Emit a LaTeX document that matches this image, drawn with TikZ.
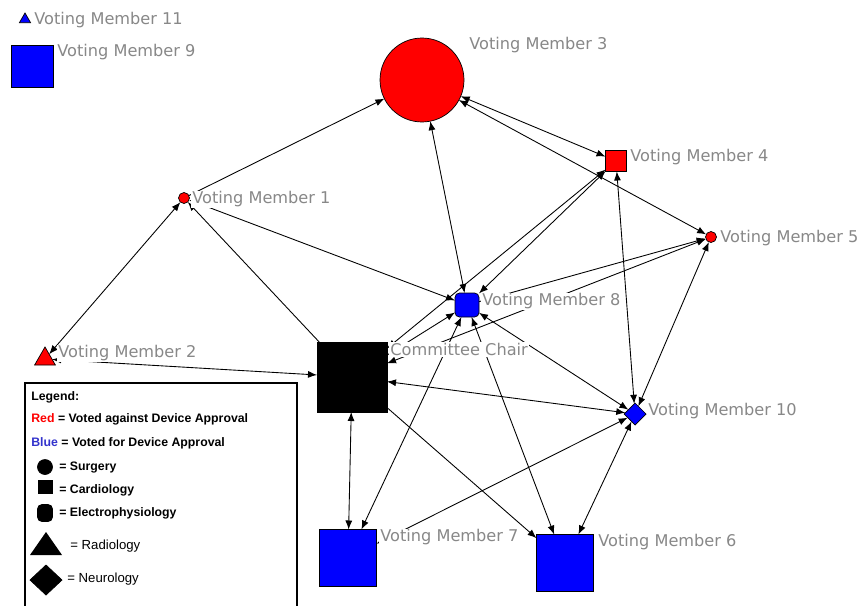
\documentclass[tikz,border=0pt]{standalone}
\usepackage{fontspec}
\setmainfont{Liberation Sans}
\newfontfamily\vmfont{DejaVu Sans}
\usetikzlibrary{backgrounds}
\usetikzlibrary{shapes.geometric}
\usetikzlibrary{arrows.meta}
\definecolor{vmred}{RGB}{255,0,0}
\definecolor{vmblue}{RGB}{0,0,255}
\definecolor{lgblue}{RGB}{51,51,204}
\definecolor{vmgray}{RGB}{136,136,136}
\newcommand{\vmsize}{\fontsize{9.2}{11}\selectfont}
\newcommand{\lgsize}{\fontsize{7}{8.5}\selectfont}
\newcommand{\lgsizer}{\fontsize{7.5}{9}\selectfont}
\tikzset{
  vm/.style={draw=black, line width=0.4pt, inner sep=0pt, outer sep=0pt},
  surg/.style={vm, circle},
  card/.style={vm, rectangle},
  ephys/.style={vm, rectangle, rounded corners=2.5pt},
  radio/.style={vm, regular polygon, regular polygon sides=3},
  neuro/.style={vm, diamond},
  vmlbl/.style={anchor=west, fill=white, inner sep=0.6pt, text=vmgray,
    font=\vmfont\vmsize, yshift=-0.03cm},
  lgtxt/.style={anchor=west, inner sep=0pt, font=\bfseries\lgsize},
  tie/.style={line width=0.5pt}
}

\begin{document}
\begin{tikzpicture}[x=0.02cm,y=-0.02cm,>={Latex[length=1.8mm,width=1.4mm]}]
  \useasboundingbox (0,0) rectangle (864,605);

  % members
  \node[surg, fill=vmred, minimum size=1.68cm] (vm3) at (422,80) {};
  \node[surg, fill=vmred, minimum size=0.22cm] (vm1) at (184,198) {};
  \node[surg, fill=vmred, minimum size=0.22cm] (vm5) at (711,237) {};
  \node[card, fill=vmred, minimum size=0.42cm] (vm4) at (616,161) {};
  \node[radio, fill=vmred, minimum size=0.48cm] (vm2) at (45,359) {};
  \node[ephys, fill=vmblue, minimum size=0.48cm] (vm8) at (467,305) {};
  \node[card, fill=black, minimum size=1.4cm] (cc) at (352,377) {};
  \node[neuro, fill=vmblue, minimum size=0.44cm] (vm10) at (635,414) {};
  \node[card, fill=vmblue, minimum size=1.14cm] (vm7) at (348,558) {};
  \node[card, fill=vmblue, minimum size=1.14cm] (vm6) at (565,563) {};
  \node[card, fill=vmblue, minimum size=0.84cm] (vm9) at (32,66) {};
  \node[radio, fill=vmblue, minimum size=0.26cm] (vm11) at (25,19.5) {};

  % names
  \node[vmlbl] (t11) at (33,19) {Voting Member 11};
  \node[vmlbl] (t9) at (56,51) {Voting Member 9};
  \node[vmlbl] (t3) at (468,44) {Voting Member 3};
  \node[vmlbl] (t4) at (629,156) {Voting Member 4};
  \node[vmlbl] (t1) at (191,198) {Voting Member 1};
  \node[vmlbl] (t5) at (719,237) {Voting Member 5};
  \node[vmlbl] (t8) at (481,300) {Voting Member 8};
  \node[vmlbl] (t2) at (57,352) {Voting Member 2};
  \node[vmlbl] (tcc) at (389,348) {Committee Chair};
  \node[vmlbl] (t10) at (647,410) {Voting Member 10};
  \node[vmlbl] (t7) at (379,536) {Voting Member 7};
  \node[vmlbl] (t6) at (597,541) {Voting Member 6};

  \begin{scope}[on background layer]
    \draw[tie,->] (vm1) -- (vm3);
    \draw[tie,<->] (vm1) -- (vm2);
    \draw[tie,->] (cc) -- (vm1);
    \draw[tie,<->] (vm1) -- (vm8);
    \draw[tie,<->] (vm2) -- (cc);
    \draw[tie,<->] (vm3) -- (vm8);
    \draw[tie,<->] (vm3) -- (vm4);
    \draw[tie,<->] (vm3) -- (vm5);
    \draw[tie,<->] (vm4) -- (vm8);
    \draw[tie,<->] (vm4) -- (cc);
    \draw[tie,<->] (vm4) -- (vm10);
    \draw[tie,<->] (vm5) -- (vm10);
    \draw[tie,->] (vm8) -- (vm5);
    \draw[tie,<->] (cc) -- (vm5);
    \draw[tie,->] (cc) -- (vm8);
    \draw[tie,<->] (vm8) -- (vm7);
    \draw[tie,<->] (vm8) -- (vm6);
    \draw[tie,<->] (vm8) -- (vm10);
    \draw[tie,<->] (cc) -- (vm10);
    \draw[tie,<->] (cc) -- (vm7);
    \draw[tie,->] (cc) -- (vm6);
    \draw[tie,<->] (vm10) -- (vm6);
    \draw[tie,<->] (vm7) -- (vm10);
  \end{scope}

  % legend
  \draw[line width=0.6pt] (25,610) |- (297,383) -- (297,610);
  \node[lgtxt] (lgh) at (31,397) {Legend:};
  \node[lgtxt] (lgr) at (31,419)
    {\textcolor{vmred}{Red} = Voted against Device Approval};
  \node[lgtxt] (lgb) at (31,443)
    {\textcolor{lgblue}{Blue} = Voted for Device Approval};
  \node[surg, fill=black, minimum size=0.3cm] (ks) at (45,467) {};
  \node[lgtxt] (lgs) at (59,467) {= Surgery};
  \node[card, fill=black, minimum width=0.28cm, minimum height=0.26cm] (kc)
    at (45,487) {};
  \node[lgtxt] (lgc) at (59,490) {= Cardiology};
  \node[ephys, fill=black, minimum width=0.3cm, minimum height=0.34cm] (ke)
    at (45,513) {};
  \node[lgtxt] (lge) at (59,513) {= Electrophysiology};
  \fill (30,555) -- (46,532) -- (62,555) -- cycle;
  \node[lgtxt, font=\lgsizer] (lgra) at (70,546) {= Radiology};
  \node[neuro, fill=black, minimum width=0.64cm, minimum height=0.6cm] (kn)
    at (46,580) {};
  \node[lgtxt, font=\lgsizer] (lgn) at (67,579) {= Neurology};
\end{tikzpicture}
\end{document}
